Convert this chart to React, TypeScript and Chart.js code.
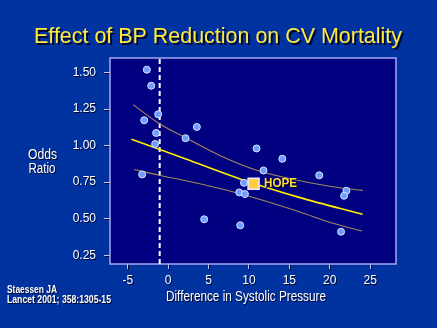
import React, { useEffect, useRef } from "react";
import { Chart, registerables } from "chart.js";

Chart.register(...registerables);

// ---- data ----
const trialX = [-2.64, -2.1, -2.97, -1.24, -1.49, -1.61, 2.15, 3.55, -3.22, 10.94, 14.13, 11.8, 18.7, 9.38, 8.8, 9.5, 22.06, 21.77, 4.46, 8.92, 21.4];
const trialY = [1.52, 1.41, 1.174, 1.215, 1.087, 1.012, 1.051, 1.128, 0.803, 0.981, 0.91, 0.83, 0.797, 0.746, 0.68, 0.669, 0.691, 0.657, 0.496, 0.455, 0.411];

const hopeX = 10.57;
const hopeY = 0.739;
const hopeLabel = "HOPE";

const fitX = [-4.55, 2.19, 9.0, 16.2, 24.07];
const fitY = [1.044, 0.908, 0.77, 0.646, 0.53];

const upperX = [-4.34, -1.12, 2.19, 6.32, 11.28, 16.2, 20.4, 24.1];
const upperY = [1.281, 1.152, 1.053, 0.935, 0.826, 0.762, 0.719, 0.694];

const lowerX = [-4.21, -1.12, 2.19, 6.32, 11.28, 16.2, 20.4, 24.0];
const lowerY = [0.837, 0.798, 0.76, 0.708, 0.633, 0.548, 0.469, 0.416];

const refLineX = -1.05;

const xTicks = [-5, 0, 5, 10, 15, 20, 25];
const yTicks = [0.25, 0.5, 0.75, 1.0, 1.25, 1.5];
const xMin = -7.2;
const xMax = 28.2;
const yMin = 0.19;
const yMax = 1.6;

const titleText = "Effect of BP Reduction on CV Mortality";
const yTitleLines = ["Odds", "Ratio"];
const xTitleText = "Difference in Systolic Pressure";
const sourceLines = ["Staessen JA", "Lancet 2001; 358:1305-15"];

const FONT = "'Liberation Sans', Arial, Helvetica, sans-serif";

function drawText(
  ctx: CanvasRenderingContext2D,
  text: string,
  x: number,
  y: number,
  font: string,
  color: string,
  width: number | null,
  align: "left" | "center",
  shadow: number
) {
  ctx.save();
  ctx.font = font;
  ctx.textBaseline = "alphabetic";
  ctx.textAlign = "left";
  const w = ctx.measureText(text).width;
  const sx = width ? width / w : 1;
  const left = align === "center" ? x - (w * sx) / 2 : x;
  ctx.translate(left, y);
  ctx.scale(sx, 1);
  if (shadow > 0) {
    ctx.fillStyle = "rgba(0,0,30,0.9)";
    ctx.fillText(text, shadow / sx, shadow);
  }
  ctx.fillStyle = color;
  ctx.fillText(text, 0, 0);
  ctx.restore();
}

const slidePlugin = {
  id: "slide",
  beforeDraw(chart: any) {
    const { ctx, chartArea, width, height } = chart;
    ctx.save();
    ctx.fillStyle = "#0033a0";
    ctx.fillRect(0, 0, width, height);
    ctx.fillStyle = "#000080";
    ctx.fillRect(chartArea.left, chartArea.top, chartArea.right - chartArea.left, chartArea.bottom - chartArea.top);
    ctx.restore();
    ctx.shadowColor = "rgba(0,0,30,0.9)";
    ctx.shadowOffsetX = 1;
    ctx.shadowOffsetY = 1;
    ctx.shadowBlur = 0;
  },
  beforeDatasetsDraw(chart: any) {
    const { ctx, chartArea } = chart;
    ctx.shadowColor = "rgba(0,0,0,0)";
    ctx.shadowOffsetX = 0;
    ctx.shadowOffsetY = 0;
    ctx.save();
    ctx.strokeStyle = "#a8a8f0";
    ctx.lineWidth = 1.5;
    ctx.strokeRect(chartArea.left, chartArea.top, chartArea.right - chartArea.left, chartArea.bottom - chartArea.top);
    ctx.restore();
  },
  afterDraw(chart: any) {
    const { ctx, scales } = chart;
    drawText(ctx, titleText, 218, 42.5, `22px ${FONT}`, "#ffea3c", 368, "center", 2);
    drawText(ctx, yTitleLines[0], 28, 159, `14px ${FONT}`, "#ffffff", 29, "left", 1);
    drawText(ctx, yTitleLines[1], 28.5, 173, `14px ${FONT}`, "#ffffff", 27, "left", 1);
    drawText(ctx, xTitleText, 246, 301, `14px ${FONT}`, "#ffffff", 160, "center", 1);
    drawText(ctx, sourceLines[0], 7, 292.5, `bold 10px ${FONT}`, "#ffffff", 50, "left", 1);
    drawText(ctx, sourceLines[1], 7, 302.5, `bold 10px ${FONT}`, "#ffffff", 104, "left", 1);
    const hx = scales.x.getPixelForValue(hopeX);
    const hy = scales.y.getPixelForValue(hopeY);
    drawText(ctx, hopeLabel, hx + 10.5, hy + 3, `bold 13px ${FONT}`, "#ffdd33", 33, "left", 1);
  },
};

export default function App() {
  const ref = useRef<HTMLCanvasElement>(null);
  useEffect(() => {
    if (!ref.current) return;
    const zip = (xs: number[], ys: number[]) => xs.map((x, i) => ({ x, y: ys[i] }));
    const chart = new Chart(ref.current, {
      type: "scatter",
      data: {
        datasets: [
          {
            label: "HOPE",
            data: [{ x: hopeX, y: hopeY }],
            pointStyle: "rect",
            pointRadius: 7.8,
            backgroundColor: "#ffcc44",
            borderColor: "#e8e8ff",
            borderWidth: 1.5,
            order: 0,
          } as any,
          {
            label: "Trials",
            data: zip(trialX, trialY),
            pointRadius: 3.5,
            backgroundColor: "#6f9cff",
            borderColor: "#d8e4ff",
            borderWidth: 1,
            order: 1,
          },
          {
            type: "line",
            label: "Fit",
            data: zip(fitX, fitY),
            borderColor: "#ffee00",
            borderWidth: 1.6,
            pointRadius: 0,
            cubicInterpolationMode: "monotone",
            order: 2,
          } as any,
          {
            type: "line",
            label: "Upper",
            data: zip(upperX, upperY),
            borderColor: "#a08a58",
            borderWidth: 1.1,
            pointRadius: 0,
            cubicInterpolationMode: "monotone",
            order: 3,
          } as any,
          {
            type: "line",
            label: "Lower",
            data: zip(lowerX, lowerY),
            borderColor: "#a08a58",
            borderWidth: 1.1,
            pointRadius: 0,
            cubicInterpolationMode: "monotone",
            order: 3,
          } as any,
          {
            type: "line",
            label: "Ref",
            data: [
              { x: refLineX, y: yMin },
              { x: refLineX, y: yMax },
            ],
            borderColor: "#ffffff",
            borderWidth: 2,
            borderDash: [5, 3],
            pointRadius: 0,
            order: 4,
          } as any,
        ],
      },
      options: {
        responsive: false,
        animation: false,
        layout: { padding: { left: 0, right: 41, top: 58, bottom: 0 } },
        plugins: {
          legend: { display: false },
          tooltip: { enabled: false },
          title: { display: false },
        },
        scales: {
          x: {
            type: "linear",
            min: xMin,
            max: xMax,
            afterBuildTicks: (s: any) => {
              s.ticks = xTicks.map((v) => ({ value: v }));
            },
            afterFit: (s: any) => {
              s.height = 64;
            },
            border: { display: false },
            grid: { drawOnChartArea: false, drawTicks: true, tickLength: 5, tickColor: "#c8c8f0", lineWidth: 1 },
            ticks: {
              color: "#ffffff",
              font: { family: FONT, size: 12 },
              padding: 4,
              maxRotation: 0,
              autoSkip: false,
              callback: (v: any) => String(v),
            },
          },
          y: {
            type: "linear",
            min: yMin,
            max: yMax,
            afterBuildTicks: (s: any) => {
              s.ticks = yTicks.map((v) => ({ value: v }));
            },
            afterFit: (s: any) => {
              s.width = 110;
            },
            border: { display: false },
            grid: { drawOnChartArea: false, drawTicks: true, tickLength: 6, tickColor: "#c8c8f0", lineWidth: 1 },
            ticks: {
              color: "#ffffff",
              font: { family: FONT, size: 12 },
              padding: 8,
              autoSkip: false,
              callback: (v: any) => Number(v).toFixed(2),
            },
          },
        },
      },
      plugins: [slidePlugin],
    } as any);
    return () => chart.destroy();
  }, []);
  return (
    <div style={{ position: "absolute", left: 0, top: 0, width: 437, height: 328 }}>
      <canvas ref={ref} width={437} height={328} style={{ display: "block" }} />
    </div>
  );
}
